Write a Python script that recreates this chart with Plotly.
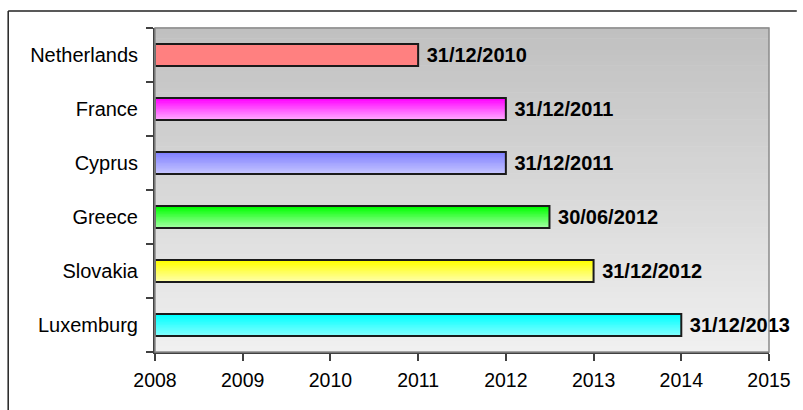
import plotly.graph_objects as go
from datetime import date

# ---- data ----
countries = ["Netherlands", "France", "Cyprus", "Greece", "Slovakia", "Luxemburg"]
end_dates = ["31/12/2010", "31/12/2011", "31/12/2011", "30/06/2012", "31/12/2012", "31/12/2013"]
start_year = 2008
x_ticks = [2008, 2009, 2010, 2011, 2012, 2013, 2014, 2015]

# bar colours (top of bar, bottom of bar)
top_colors = ["#FF8080", "#FF00FF", "#8080FF", "#00FF00", "#FFFF00", "#00FFFF"]
bottom_colors = ["#FF8080", "#FFA8FF", "#C4C4FF", "#A0FFA0", "#FFFFA8", "#80FFFF"]


def to_year(s):
    d, m, y = (int(p) for p in s.split("/"))
    dt = date(y, m, d)
    n = (date(y + 1, 1, 1) - date(y, 1, 1)).days
    return y + dt.timetuple().tm_yday / n


ends = [to_year(s) for s in end_dates]
lengths = [e - start_year for e in ends]


def hex2rgb(h):
    h = h.lstrip("#")
    return tuple(int(h[i:i + 2], 16) for i in (0, 2, 4))


def mix(c1, c2, t):
    a, b = hex2rgb(c1), hex2rgb(c2)
    return "rgb(%d,%d,%d)" % tuple(round(a[i] + (b[i] - a[i]) * t) for i in range(3))


fig = go.Figure()

W = 0.41  # bar thickness (category units)
K = 14
for k in range(K):
    t = k / (K - 1)
    h = W * (1 - k / K)
    fig.add_trace(go.Bar(
        y=countries, x=lengths, base=[start_year] * len(countries),
        orientation="h", width=h, offset=W / 2 - h,
        marker=dict(color=[mix(b, tp, t) for b, tp in zip(bottom_colors, top_colors)],
                    line=dict(width=0)),
        hoverinfo="skip", showlegend=False,
    ))

fig.add_trace(go.Bar(
    y=countries, x=lengths, base=[start_year] * len(countries),
    orientation="h", width=W, offset=-W / 2,
    marker=dict(color="rgba(0,0,0,0)", line=dict(color="#1a1a1a", width=2)),
    text=end_dates, texttemplate="\u00a0%{text}", textposition="outside", constraintext="none",
    textfont=dict(family="Liberation Sans", size=20, color="black", weight="bold"),
    cliponaxis=False, showlegend=False,
))

# gradient plot background (styling)
shapes = []
N = 60
for i in range(N):
    t = i / (N - 1)
    g = round(240 - (240 - 192) * t)
    shapes.append(dict(type="rect", xref="x domain", yref="y domain",
                       x0=0, x1=1, y0=i / N, y1=(i + 1) / N + 0.002,
                       fillcolor="rgb(%d,%d,%d)" % (g, g, g), line=dict(width=0),
                       layer="below"))
# plot area frame (top/right in grey)
shapes.append(dict(type="rect", xref="x domain", yref="y domain", x0=0, x1=1, y0=0, y1=1,
                   line=dict(color="#8a8a8a", width=1.5), layer="above"))
# outer chart border (left and top edges visible)
pw, ph = 619, 324
left_x = (7 - 155) / pw
top_y = 1 + 17 / ph
shapes.append(dict(type="line", xref="paper", yref="paper",
                   x0=left_x, x1=1 + 28 / pw, y0=top_y, y1=top_y,
                   line=dict(color="#222222", width=1.5), layer="above"))
shapes.append(dict(type="line", xref="paper", yref="paper",
                   x0=left_x, x1=left_x, y0=-58 / ph, y1=top_y,
                   line=dict(color="#222222", width=1.5), layer="above"))

fig.update_layout(
    width=803, height=410,
    margin=dict(l=155, r=29, t=28, b=58),
    paper_bgcolor="white", plot_bgcolor="rgba(0,0,0,0)",
    barmode="overlay", showlegend=False,
    font=dict(family="Liberation Sans", color="black"),
    shapes=shapes,
    xaxis=dict(range=[x_ticks[0], x_ticks[-1]], tickvals=x_ticks, ticktext=[str(v) for v in x_ticks],
               showgrid=False, zeroline=False, showline=True, linecolor="#404040", linewidth=2,
               ticks="outside", ticklen=7, tickwidth=1.5, tickcolor="#404040",
               tickfont=dict(size=19.5, color="black"), ticklabelstandoff=3,
               layer="above traces"),
    yaxis=dict(categoryorder="array", categoryarray=list(reversed(countries)),
               tickson="boundaries", showgrid=False, zeroline=False,
               showline=True, linecolor="#404040", linewidth=2,
               ticks="outside", ticklen=7, tickwidth=1.5, tickcolor="#404040",
               tickfont=dict(size=20, color="black"), ticklabelstandoff=11,
               layer="above traces"),
)

fig.write_html("out.html", config={"displayModeBar": False})
